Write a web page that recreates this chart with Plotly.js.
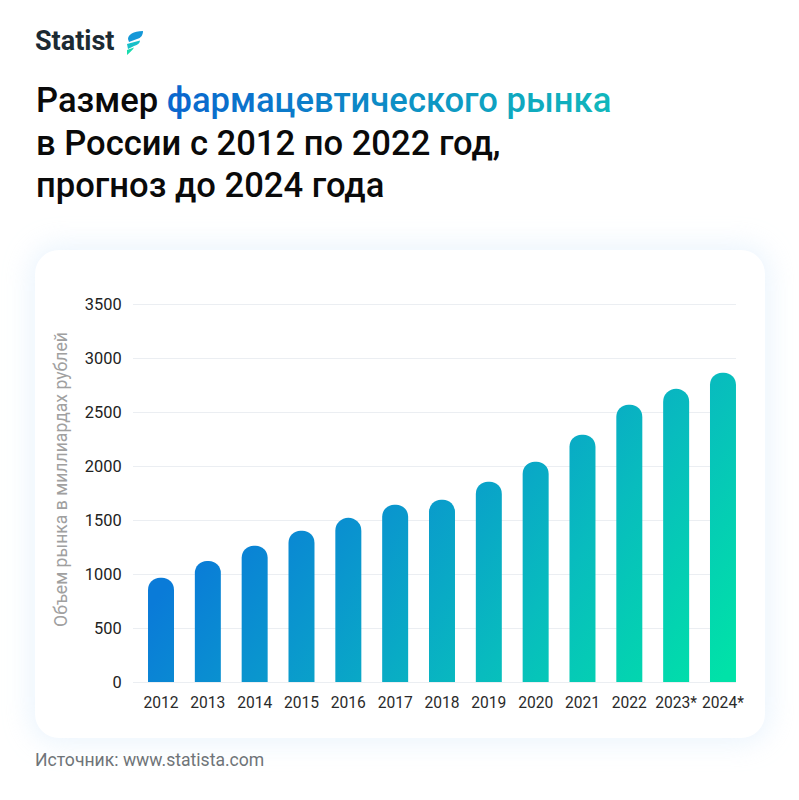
<!DOCTYPE html>
<html><head><meta charset="utf-8">
<script src="https://cdn.plot.ly/plotly-3.0.1.min.js"></script>
<style>
html,body{margin:0;padding:0;background:#fff;width:799px;height:800px;overflow:hidden}
#card{position:absolute;left:35px;top:250px;width:730px;height:488px;border-radius:24px;background:#fff;box-shadow:0 0 26px 6px rgba(205,230,250,.38)}
#chart{position:absolute;left:0;top:0;width:799px;height:800px}
#logo{position:absolute;left:125px;top:30px;width:20px;height:26px}
</style></head><body>
<div id="card"></div>
<div id="chart"></div>
<svg id="logo" viewBox="0 0 20 26">
<path d="M3 9 C3 5 8 1 18 1 C18 5 16 8 12 9 L4 12Z" fill="#1598d8"/>
<path d="M2 14 L15 10.5 C15 13 13 15 9 16 L3 19Z" fill="#17c0c8"/>
<path d="M2 25 L2 20 L9 17.5 C8 20 5 22 2 25Z" fill="#18dcae"/>
</svg>
<script>
const categories = ["2012","2013","2014","2015","2016","2017","2018","2019","2020","2021","2022","2023*","2024*"];
const marketValues = [966,1123,1263,1402,1523,1643,1690,1857,2043,2293,2572,2720,2869];
const yTicks = [0,500,1000,1500,2000,2500,3000,3500];
const titlePlain = "Размер ";
const titleAccent = "фармацевтического рынка";
const titleRest = ["в России с 2012 по 2022 год,","прогноз до 2024 года"];
const yAxisTitle = "Объем рынка в миллиардах рублей";
const brandText = "Statist";
const sourceText = "Источник: www.statista.com";

function mix(a,b,t){return a.map((v,i)=>Math.round(v+(b[i]-v)*t));}
const accentStart=[10,104,206], accentEnd=[16,182,188];
const accent=[...titleAccent].map((ch,i)=>{
  const c=mix(accentStart,accentEnd,i/(titleAccent.length-1));
  return `<span style="color:rgb(${c.join(',')})">${ch}</span>`;
}).join('');

const W=799,H=800,L=133,R=63,T=303.4,B=118;
const pw=W-L-R, ph=H-T-B;
const px=x=>(x-L)/pw, py=y=>(H-B-y)/ph;

const data=[{type:'bar',x:categories,y:marketValues,width:0.555,
  marker:{color:'#0a9fc8',cornerradius:13,line:{width:0}},hoverinfo:'x+y'}];
const layout={
  width:W,height:H,margin:{l:L,r:R,t:T,b:B,pad:0},
  paper_bgcolor:'rgba(0,0,0,0)',plot_bgcolor:'rgba(0,0,0,0)',showlegend:false,
  font:{family:'Roboto, sans-serif',color:'#222'},
  title:{text:titlePlain+accent+'<br>'+titleRest.join('<br>'),
    x:36/W,xref:'container',xanchor:'left',y:1-112/H,yref:'container',yanchor:'top',
    font:{family:'Roboto, sans-serif',size:34.6,weight:500,color:'#0a0a0a'}},
  xaxis:{type:'category',range:[-0.598,12.278],showgrid:false,zeroline:false,showline:false,
    ticks:'outside',ticklen:6,tickcolor:'rgba(0,0,0,0)',tickangle:0,
    tickfont:{size:15.6,color:'#2a2a2a'},automargin:false},
  yaxis:{range:[0,3515],tickmode:'array',tickvals:yTicks,ticktext:yTicks.map(String),
    gridcolor:'#ebeef2',gridwidth:1,zeroline:true,zerolinecolor:'#ebeef2',showline:false,
    ticks:'outside',ticklen:7,tickcolor:'rgba(0,0,0,0)',
    tickfont:{size:16.4,color:'#222'},automargin:false,
    title:{text:yAxisTitle,standoff:8,font:{size:17.6,color:'#a0a0a0'}}},
  annotations:[
    {text:brandText,xref:'paper',yref:'paper',x:px(33),y:py(42),xanchor:'left',yanchor:'middle',showarrow:false,
     font:{size:27,weight:700,color:'#1c2a33',family:'Roboto, sans-serif'}},
    {text:sourceText,xref:'paper',yref:'paper',x:px(33),y:py(760),xanchor:'left',yanchor:'middle',showarrow:false,
     font:{size:17.6,color:'#6f7478',family:'Roboto, sans-serif'}}
  ]
};
Plotly.newPlot('chart',data,layout,{displayModeBar:false,staticPlot:true}).then(gd=>{
  const svg=gd.querySelector('.main-svg');
  const NS='http://www.w3.org/2000/svg';
  const defs=svg.querySelector('defs')||svg.insertBefore(document.createElementNS(NS,'defs'),svg.firstChild);
  const g=document.createElementNS(NS,'linearGradient');
  g.setAttribute('id','barGrad');g.setAttribute('gradientUnits','userSpaceOnUse');
  g.setAttribute('x1',125);g.setAttribute('y1',99);g.setAttribute('x2',545);g.setAttribute('y2',432);
  [[0.08,'#0a7bd8'],[0.335,'#0a98cd'],[0.645,'#08bcbe'],[1,'#00e2a8']].forEach(s=>{
    const st=document.createElementNS(NS,'stop');st.setAttribute('offset',s[0]);st.setAttribute('stop-color',s[1]);g.appendChild(st);
  });
  defs.appendChild(g);
  gd.querySelectorAll('.bars .point path').forEach(p=>{p.style.fill='url(#barGrad)';});
  const yt=gd.querySelector('.ytitle');
  if(yt){yt.setAttribute('transform','translate(-4,-13) '+(yt.getAttribute('transform')||''));}
  gd.querySelectorAll('.gtitle tspan.line').forEach((l,i)=>{
    if(i>0) l.setAttribute('dy',i*42.5);
  });
});
</script>
</body></html>
